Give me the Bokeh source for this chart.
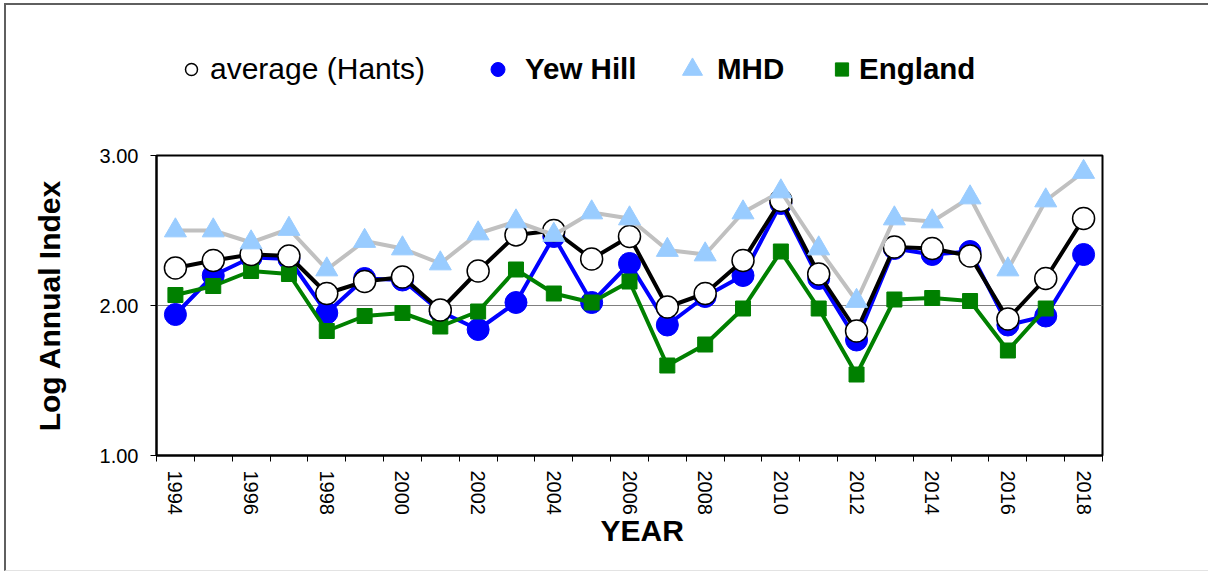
from bokeh.plotting import figure
from bokeh.layouts import column
from bokeh.models import (Range1d, FixedTicker, Legend, LegendItem, LinearAxis, Grid, Title,
                          PrintfTickFormatter, ColumnDataSource)
from bokeh.embed import file_html
from bokeh.resources import INLINE

# ---------------- data ----------------
years = list(range(1994, 2019))
avg_hants = [2.25, 2.30, 2.34, 2.33, 2.08, 2.16, 2.19, 1.97, 2.23, 2.47, 2.50, 2.31, 2.46,
             1.99, 2.08, 2.30, 2.70, 2.21, 1.83, 2.39, 2.38, 2.33, 1.91, 2.18, 2.58]
yew_hill = [1.94, 2.20, 2.32, 2.31, 1.95, 2.18, 2.17, 1.96, 1.84, 2.02, 2.46, 2.02, 2.28,
            1.87, 2.06, 2.20, 2.68, 2.18, 1.77, 2.38, 2.34, 2.36, 1.87, 1.93, 2.34]
mhd = [2.50, 2.50, 2.42, 2.51, 2.24, 2.43, 2.38, 2.28, 2.48, 2.56, 2.47, 2.62, 2.58,
       2.37, 2.34, 2.62, 2.76, 2.38, 2.03, 2.58, 2.56, 2.72, 2.24, 2.70, 2.89]
england = [2.07, 2.13, 2.23, 2.21, 1.83, 1.93, 1.95, 1.86, 1.96, 2.24, 2.08, 2.02, 2.16,
           1.60, 1.74, 1.98, 2.36, 1.98, 1.54, 2.04, 2.05, 2.03, 1.70, 1.98, float("nan")]
y_ticks = [1.0, 2.0, 3.0]
x_label_years = list(range(1994, 2019, 2))
series_names = ["average (Hants)", "Yew Hill", "MHD", "England"]

FONT = "Liberation Sans"
W = 1202

src = ColumnDataSource(dict(year=years, avg=avg_hants, yew=yew_hill, mhd=mhd, eng=england))

# series styles: line colour, marker, size, fill, outline, outline width
styles = {
    "yew": ("#0000FF", "circle", 22, "#0000FF", "#0000FF", 1),
    "eng": ("#008000", "square", 15, "#008000", "#008000", 1),
    "avg": ("black", "circle", 22, "white", "black", 1.5),
    "mhd": ("#C0C0C0", "triangle", 22, "#99CCFF", "#99CCFF", 1),
}
draw_order = ["yew", "eng", "avg", "mhd"]

# ---------------- main chart ----------------
p = figure(frame_width=946, frame_height=300,
           min_border_left=150, min_border_top=30, min_border_right=106, min_border_bottom=115,
           x_range=Range1d(years[0] - 0.5, years[-1] + 0.5), y_range=Range1d(1.0, 3.0),
           output_backend="svg", toolbar_location=None, x_axis_type=None, y_axis_type=None,
           background_fill_color="white", border_fill_color="white")
p.outline_line_color = "black"
p.outline_line_width = 2

xaxis = LinearAxis(ticker=FixedTicker(ticks=x_label_years,
                                      minor_ticks=[y - 0.5 for y in years] + [years[-1] + 0.5]))
xaxis.major_tick_line_color = None
xaxis.major_tick_out = 0
xaxis.major_tick_in = 0
xaxis.minor_tick_line_color = "black"
xaxis.minor_tick_out = 6
xaxis.minor_tick_in = 0
xaxis.axis_line_color = "black"
xaxis.axis_line_width = 2
xaxis.major_label_orientation = "vertical"
xaxis.major_label_standoff = 9
xaxis.major_label_text_font = FONT
xaxis.major_label_text_font_size = "20px"
xaxis.major_label_text_color = "black"
p.add_layout(xaxis, "below")

# x-axis title (as a Title so it can sit slightly right of centre, as in the original)
xtitle = Title(text="YEAR", align="left", offset=444, standoff=-11,
               text_font=FONT, text_font_size="30px", text_font_style="bold",
               text_color="black")
p.add_layout(xtitle, "below")

yaxis = LinearAxis(ticker=FixedTicker(ticks=y_ticks, minor_ticks=[]),
                   formatter=PrintfTickFormatter(format="%.2f"))
yaxis.major_tick_out = 6
yaxis.major_tick_in = 0
yaxis.major_tick_line_color = "black"
yaxis.minor_tick_line_color = None
yaxis.axis_line_color = "black"
yaxis.axis_line_width = 2
yaxis.major_label_standoff = 12
yaxis.major_label_text_font = FONT
yaxis.major_label_text_font_size = "20px"
yaxis.major_label_text_color = "black"
yaxis.axis_label = "Log Annual Index"
yaxis.axis_label_text_font = FONT
yaxis.axis_label_text_font_size = "30px"
yaxis.axis_label_text_font_style = "bold"
yaxis.axis_label_text_color = "black"
yaxis.axis_label_standoff = 31
p.add_layout(yaxis, "left")

p.add_layout(Grid(dimension=1, ticker=FixedTicker(ticks=[2.0]), grid_line_color="#808080",
                  grid_line_width=1))

for key in draw_order:
    lc, mk, sz, fc, oc, ow = styles[key]
    p.line("year", key, source=src, line_color=lc, line_width=4)
    p.scatter("year", key, source=src, marker=mk, size=sz, fill_color=fc,
              line_color=oc, line_width=ow)

# ---------------- legend strip (own figure so it is not clipped) ----------------
LH = 120
lf = figure(width=W, height=LH, min_border=0, x_range=Range1d(0, W), y_range=Range1d(0, LH),
            output_backend="svg", toolbar_location=None, x_axis_type=None, y_axis_type=None,
            background_fill_color="white", border_fill_color="white", outline_line_color=None)
lf.xgrid.visible = False
lf.ygrid.visible = False

legend_keys = ["avg", "yew", "mhd", "eng"]
# (glyph box width, label standoff, x offset from plot frame, font style, font size)
legend_layout = [
    (30, 4, 20, "normal", "30px"),
    (35, 10, 324, "bold", "29.5px"),
    (50, -2, 511, "bold", "29.5px"),
    (33, 1, 669, "bold", "29.5px"),
]
for key, name, (gw, standoff, vx, fstyle, fsize) in zip(legend_keys, series_names, legend_layout):
    lc, mk, sz, fc, oc, ow = styles[key]
    # swatch renderer uses the real series; its points lie outside this strip's view
    rend = lf.scatter("year", key, source=src, marker=mk, size=sz, fill_color=fc,
                      line_color=oc, line_width=ow)
    lg = Legend(items=[LegendItem(label=name, renderers=[rend])],
                location=(vx, 31), orientation="horizontal",
                glyph_width=gw, glyph_height=50, label_height=50,
                label_standoff=standoff, padding=0, margin=0, spacing=0,
                border_line_color=None, background_fill_alpha=0,
                label_text_font=FONT, label_text_font_size=fsize,
                label_text_font_style=fstyle, label_text_color="black")
    lf.add_layout(lg, "center")

layout = column(lf, p, spacing=0)
layout.styles = {"margin-left": "4px", "margin-top": "3px",
                 "border-top": "2px solid #5f5f5f", "border-left": "2px solid #5f5f5f",
                 "border-bottom": "1px solid #e3e3e3"}

open("out.html", "w").write(file_html(layout, INLINE))
